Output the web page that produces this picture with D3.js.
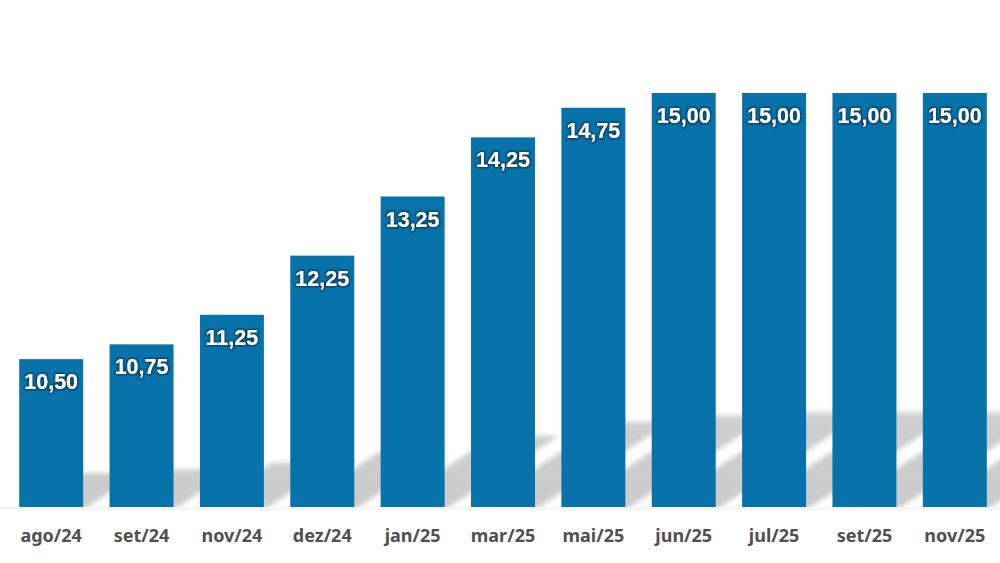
<!DOCTYPE html>
<html>
<head>
<meta charset="utf-8">
<script src="https://cdn.jsdelivr.net/npm/d3@7"></script>
<style>
  html, body { margin: 0; padding: 0; background: #ffffff; }
  svg { display: block; }
</style>
</head>
<body>
<svg id="chart" width="1000" height="563"></svg>
<script>
const categories = ["ago/24", "set/24", "nov/24", "dez/24", "jan/25", "mar/25", "mai/25", "jun/25", "jul/25", "set/25", "nov/25"];
const values = [10.50, 10.75, 11.25, 12.25, 13.25, 14.25, 14.75, 15.00, 15.00, 15.00, 15.00];
const valueLabels = ["10,50", "10,75", "11,25", "12,25", "13,25", "14,25", "14,75", "15,00", "15,00", "15,00", "15,00"];

const W = 1000, H = 563;
const svg = d3.select("#chart");

const x = d3.scaleBand()
  .domain(categories)
  .range([6, 1000])
  .paddingInner(0.292)
  .paddingOuter(0.146);

const y = d3.scaleLinear()
  .domain([8, 15])
  .range([507, 93]);

const data = categories.map((c, i) => ({ c, v: values[i], label: valueLabels[i] }));

const defs = svg.append("defs");

// shadow blur
const blur = defs.append("filter").attr("id", "shadowBlur")
  .attr("x", "-30%").attr("y", "-30%").attr("width", "160%").attr("height", "160%");
blur.append("feGaussianBlur").attr("stdDeviation", 2.6);

// shadow vertical fade
const grad = defs.append("linearGradient").attr("id", "shadowGrad")
  .attr("gradientUnits", "userSpaceOnUse")
  .attr("x1", 0).attr("y1", 507).attr("x2", 0).attr("y2", 405);
grad.append("stop").attr("offset", "0%").attr("stop-color", "#cbcbcb");
grad.append("stop").attr("offset", "80%").attr("stop-color", "#cdcdcd");
grad.append("stop").attr("offset", "100%").attr("stop-color", "#d8d8d8");

// glow for value labels
const glow = defs.append("filter").attr("id", "textGlow")
  .attr("x", "-20%").attr("y", "-30%").attr("width", "140%").attr("height", "160%");
glow.append("feMorphology").attr("in", "SourceAlpha").attr("operator", "dilate").attr("radius", 0.8).attr("result", "dil");
glow.append("feGaussianBlur").attr("in", "dil").attr("stdDeviation", 1.1).attr("result", "blur");
glow.append("feFlood").attr("flood-color", "#06304d").attr("flood-opacity", 0.85).attr("result", "col");
glow.append("feComposite").attr("in", "col").attr("in2", "blur").attr("operator", "in").attr("result", "shadow");
const merge = glow.append("feMerge");
merge.append("feMergeNode").attr("in", "shadow");
merge.append("feMergeNode").attr("in", "SourceGraphic");

const base = y(8);
const ratio = 0.23;
const slant = 1.56;
const shift = 3;

// shadows (perspective, cast up-right)
svg.append("g").attr("filter", "url(#shadowBlur)")
  .selectAll("path")
  .data(data)
  .join("path")
  .attr("fill", "url(#shadowGrad)")
  .attr("d", d => {
    const x0 = x(d.c) + shift, x1 = x(d.c) + x.bandwidth() + shift;
    const h = (base - y(d.v)) * ratio;
    const off = h * slant;
    return `M${x0},${base + 1} L${x1},${base + 1} L${x1 + off},${base - h} L${x0 + off},${base - h} Z`;
  });

// mask below baseline (faint floor)
svg.append("rect")
  .attr("x", 0).attr("y", base + 1).attr("width", W).attr("height", H - base)
  .attr("fill", "#ffffff");
svg.append("rect")
  .attr("x", 0).attr("y", base).attr("width", W).attr("height", 3)
  .attr("fill", "#f5f5f5");

// bars
svg.append("g")
  .selectAll("rect")
  .data(data)
  .join("rect")
  .attr("x", d => x(d.c))
  .attr("y", d => y(d.v))
  .attr("width", x.bandwidth())
  .attr("height", d => base - y(d.v))
  .attr("fill", "#0872aa");

// value labels
svg.append("g")
  .selectAll("text")
  .data(data)
  .join("text")
  .attr("x", d => x(d.c) + x.bandwidth() / 2)
  .attr("y", d => y(d.v) + 30)
  .attr("text-anchor", "middle")
  .attr("font-family", "'Liberation Sans', Arial, sans-serif")
  .attr("font-weight", "bold")
  .attr("font-size", 21.5)
  .attr("fill", "#ffffff")
  .attr("filter", "url(#textGlow)")
  .text(d => d.label);

// x axis
const xAxis = svg.append("g")
  .attr("transform", `translate(0,${base})`)
  .call(d3.axisBottom(x).tickSize(0).tickPadding(22));
xAxis.select(".domain").remove();
xAxis.selectAll("text")
  .attr("font-family", "'Noto Sans', 'Open Sans', sans-serif")
  .attr("font-weight", "bold")
  .attr("font-size", 18)
  .attr("fill", "#505050");
</script>
</body>
</html>
